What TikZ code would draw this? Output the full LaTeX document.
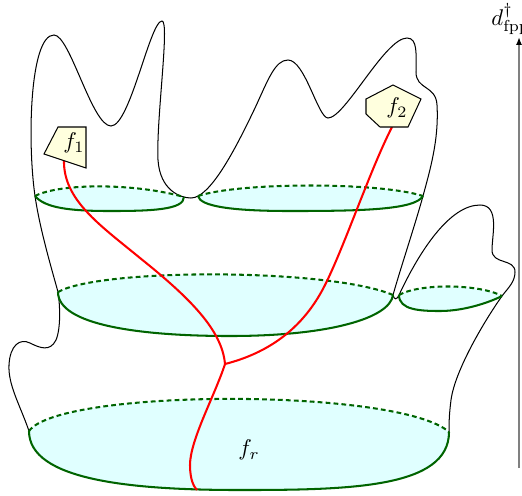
\documentclass[tikz,border=0pt]{standalone}
\usetikzlibrary{arrows.meta}
\definecolor{secfill}{RGB}{224,255,255}
\definecolor{secline}{RGB}{0,100,0}
\definecolor{facefill}{RGB}{255,255,222}
\definecolor{axisgray}{RGB}{128,128,128}
\begin{document}
\begin{tikzpicture}[x=0.44pt,y=-0.44pt,
  outline/.style={black, line width=0.45pt},
  secback/.style={secline, line width=0.9pt, dash pattern=on 2.1pt off 1.4pt},
  secfront/.style={secline, line width=0.9pt},
  wire/.style={red, line width=0.9pt},
  facebox/.style={draw=black, line width=0.45pt, fill=facefill},
  lab/.style={inner sep=0pt}
]
\useasboundingbox (0,0) rectangle (522,495);

% ---------- section fills ----------
\fill[secfill] (35,196) .. controls (60,183) and (135,183) .. (184,197)
  .. controls (184,210) and (150,211) .. (110,211) .. controls (70,211) and (45,208) .. (35,196) -- cycle;
\fill[secfill] (198,196) .. controls (240,182) and (380,182) .. (423,196)
  .. controls (415,210) and (360,211) .. (290,211) .. controls (230,211) and (200,206) .. (198,196) -- cycle;
\fill[secfill] (58,292) .. controls (100,268) and (330,268) .. (393,295)
  .. controls (390,318) and (330,336) .. (230,336) .. controls (140,336) and (58,325) .. (58,292) -- cycle;
\fill[secfill] (399,295) .. controls (420,283) and (480,284) .. (502,296)
  .. controls (490,302) and (465,311) .. (440,311) .. controls (420,311) and (399,310) .. (399,295) -- cycle;
\fill[secfill] (29,431) .. controls (60,388) and (400,388) .. (449,432)
  .. controls (449,488) and (350,490) .. (240,490) .. controls (130,490) and (29,480) .. (29,431) -- cycle;

% ---------- outline ----------
\draw[outline] (29,431) .. controls (20,405) and (8,385) .. (9,365)
  .. controls (10,345) and (20,338) .. (30,343)
  .. controls (40,348) and (50,352) .. (56,340)
  .. controls (61,328) and (60,305) .. (58,292)
  .. controls (52,270) and (40,230) .. (35,196)
  .. controls (27,140) and (30,35) .. (54,35)
  .. controls (70,35) and (92,126) .. (111,126)
  .. controls (130,126) and (150,21) .. (162,21)
  .. controls (170,21) and (156,120) .. (158,160)
  .. controls (160,190) and (180,198) .. (191,198)
  .. controls (210,198) and (235,150) .. (255,108)
  .. controls (268,80) and (275,60) .. (288,60)
  .. controls (305,60) and (318,118) .. (328,118)
  .. controls (345,118) and (385,38) .. (407,38)
  .. controls (418,38) and (416,55) .. (416,72)
  .. controls (416,90) and (436,85) .. (437,105)
  .. controls (439,140) and (430,170) .. (423,196)
  .. controls (415,225) and (400,270) .. (393,295)
  .. controls (394,300) and (397,300) .. (399,295)
  .. controls (420,250) and (450,205) .. (480,205)
  .. controls (500,205) and (492,235) .. (492,250)
  .. controls (492,265) and (515,258) .. (515,272)
  .. controls (515,282) and (508,288) .. (502,296)
  .. controls (485,320) and (455,370) .. (451,400)
  .. controls (449,415) and (449,425) .. (449,432);

% ---------- section edges ----------
\draw[secback] (35,196) .. controls (60,183) and (135,183) .. (184,197);
\draw[secfront] (184,197) .. controls (184,210) and (150,211) .. (110,211) .. controls (70,211) and (45,208) .. (35,196);
\draw[secback] (198,196) .. controls (240,182) and (380,182) .. (423,196);
\draw[secfront] (423,196) .. controls (415,210) and (360,211) .. (290,211) .. controls (230,211) and (200,206) .. (198,196);
\draw[secback] (58,292) .. controls (100,268) and (330,268) .. (393,295);
\draw[secfront] (393,295) .. controls (390,318) and (330,336) .. (230,336) .. controls (140,336) and (58,325) .. (58,292);
\draw[secback] (399,295) .. controls (420,283) and (480,284) .. (502,296);
\draw[secfront] (502,296) .. controls (490,302) and (465,311) .. (440,311) .. controls (420,311) and (399,310) .. (399,295);
\draw[secback] (29,431) .. controls (60,388) and (400,388) .. (449,432);
\draw[secfront] (449,432) .. controls (449,488) and (350,490) .. (240,490) .. controls (130,490) and (29,480) .. (29,431);

% ---------- red tree ----------
\coordinate (f1out) at (64,160);
\coordinate (f2out) at (392,127);
\coordinate (junc) at (225,364);
\coordinate (rootend) at (197,490);
\draw[wire] (f1out) .. controls (63,200) and (100,225) .. (140,258)
  .. controls (190,298) and (222,330) .. (junc);
\draw[wire] (junc) .. controls (260,355) and (300,335) .. (325,285)
  .. controls (345,245) and (370,170) .. (f2out);
\draw[wire] (junc) .. controls (215,395) and (190,440) .. (190,465)
  .. controls (190,480) and (194,487) .. (rootend);

% ---------- faces ----------
\draw[facebox] (58,127) -- (86,127) -- (86,168) -- (44,154) -- cycle;
\node[lab] (f1) at (74,143) {$f_1$};
\draw[facebox] (393,85) -- (421,99) -- (408,127) -- (380,127) -- (366,114) -- (366,99) -- cycle;
\node[lab] (f2) at (397,108) {$f_2$};
\node[lab] (fr) at (249,450) {$f_r$};

% ---------- axis ----------
\coordinate (axbot) at (519,468);
\coordinate (axtop) at (519,37);
\draw[axisgray, line width=0.9pt, -{Latex[black,length=3.5pt,width=2.7pt]}] (axbot) -- (axtop);
\node[lab, anchor=base west] (dlab) at (491,25) {$d^\dagger_{\mathrm{fpp}}$};
\end{tikzpicture}
\end{document}
